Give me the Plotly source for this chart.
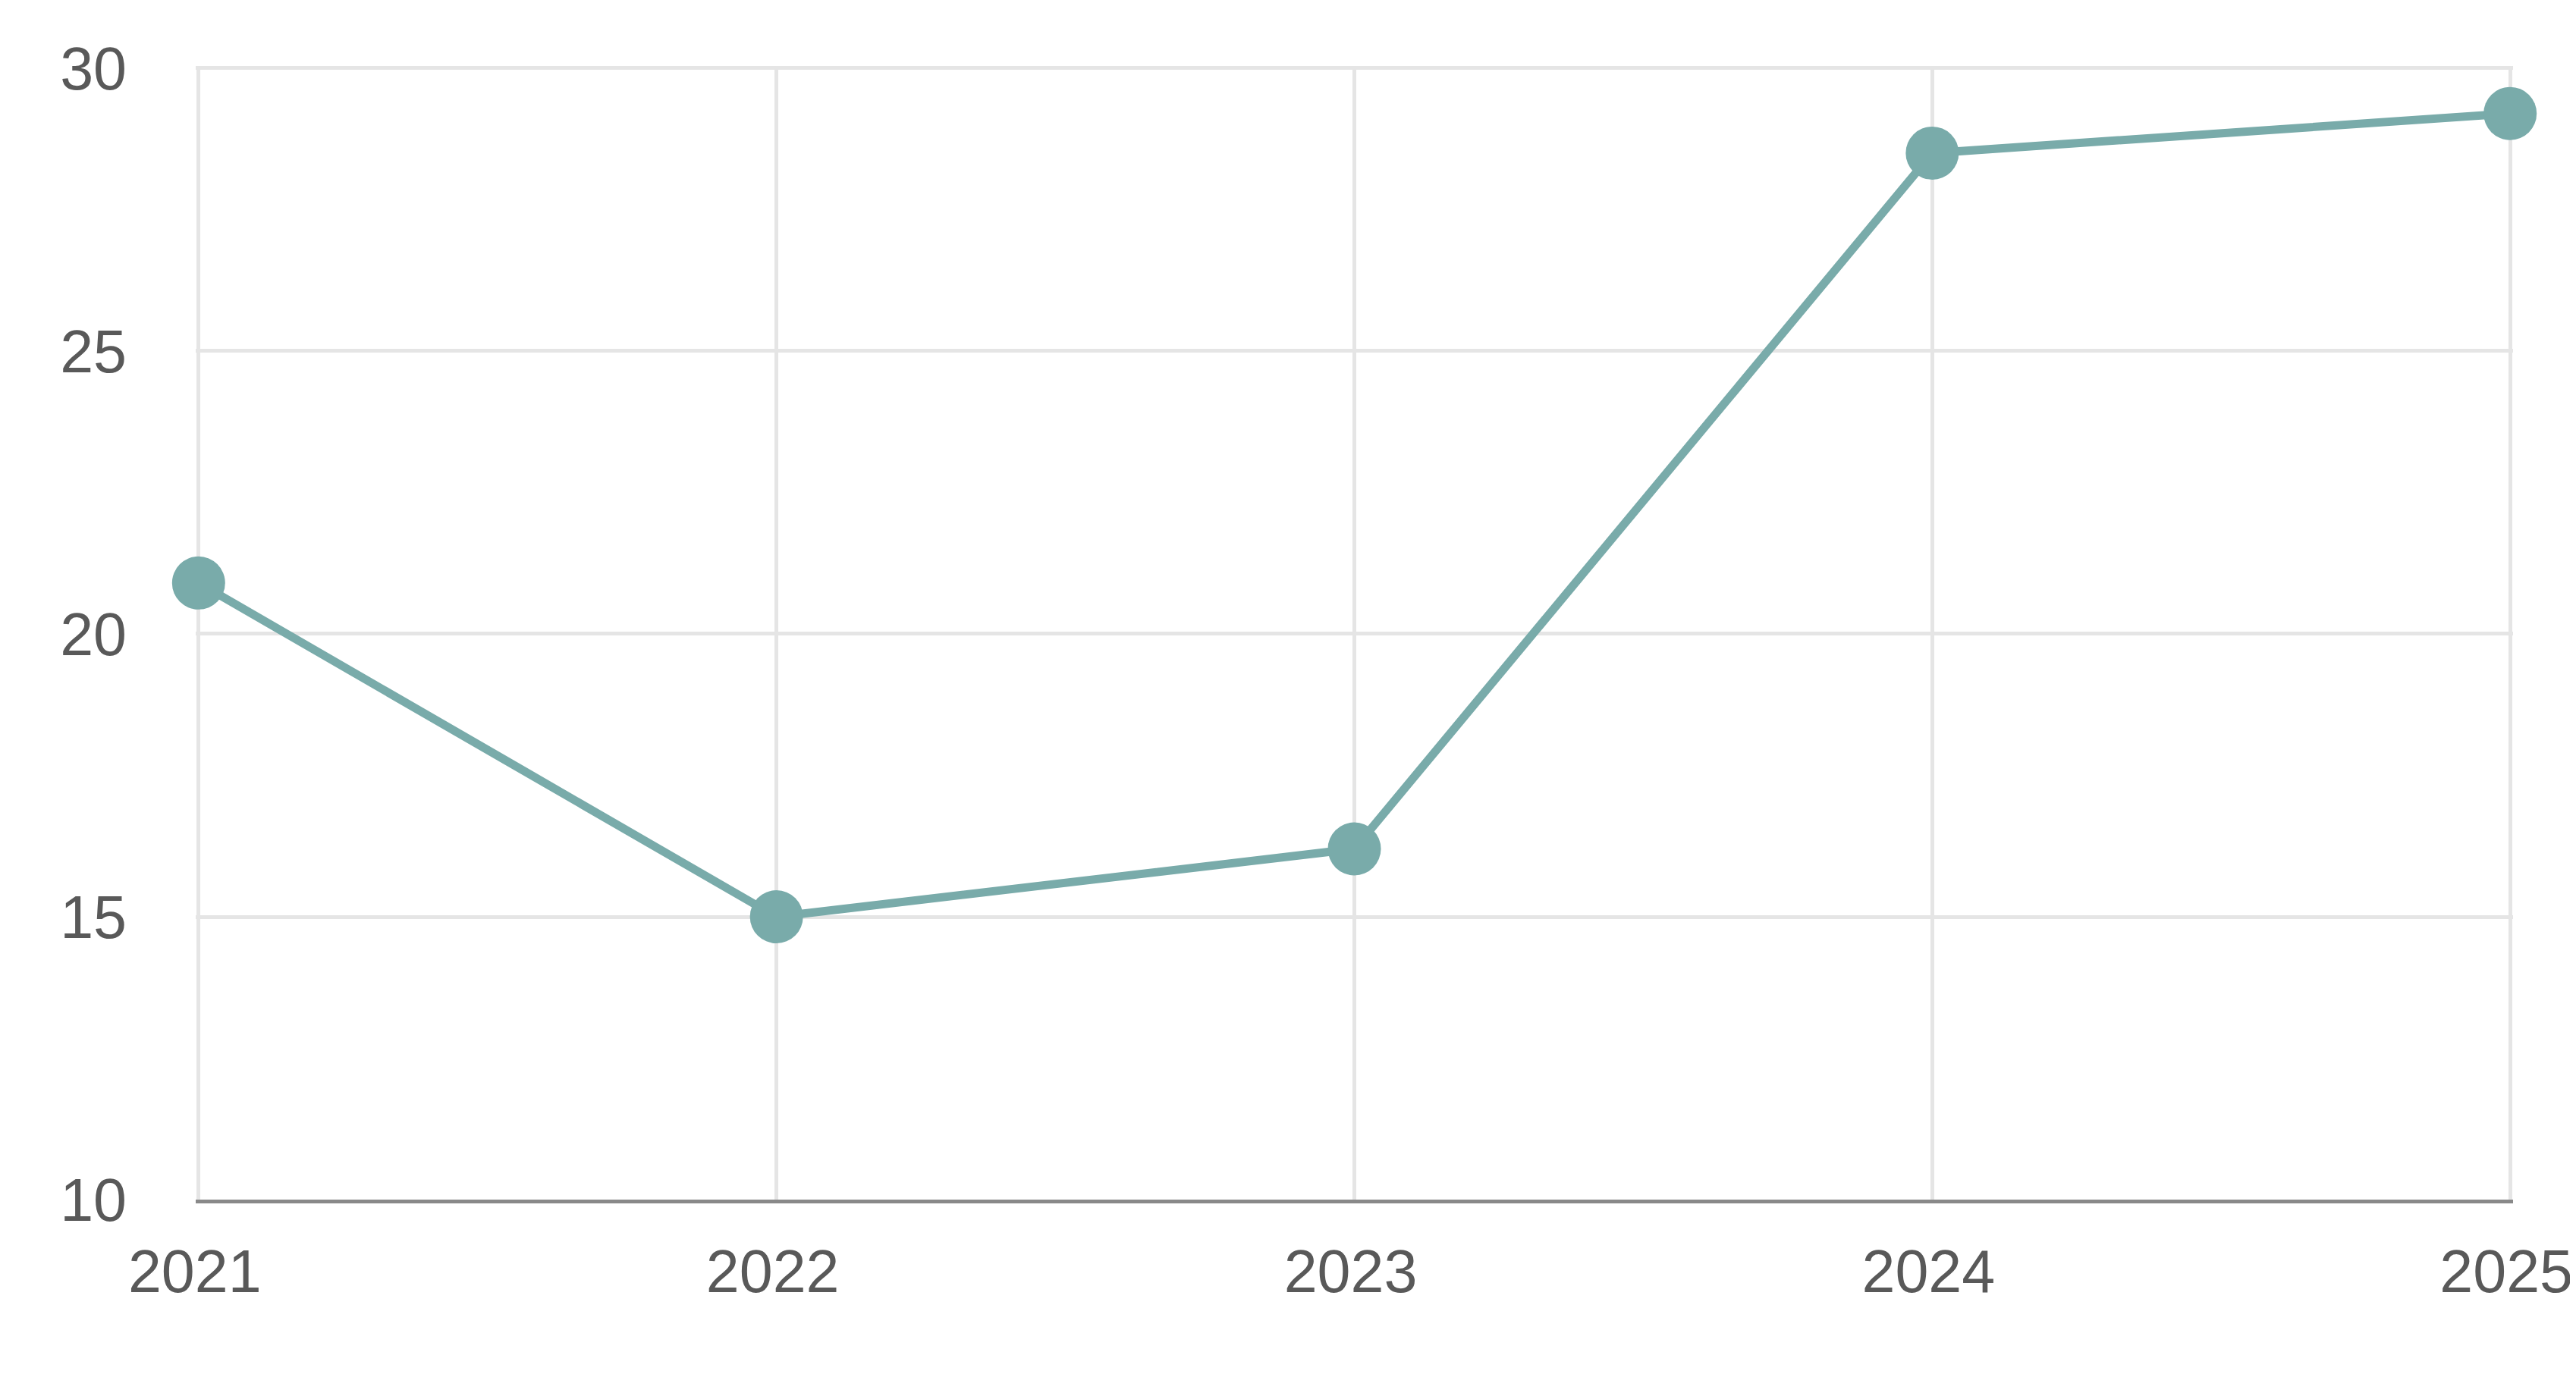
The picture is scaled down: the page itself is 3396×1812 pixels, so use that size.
import plotly.graph_objects as go

years = ["2021", "2022", "2023", "2024", "2025"]
values = [20.9, 15.0, 16.2, 28.5, 29.2]
y_ticks = [10, 15, 20, 25, 30]

COLOR = "#79ABAA"
TEXT = "#595959"
FONT = "Liberation Sans, Arial, sans-serif"

fig = go.Figure(
    go.Scatter(
        x=years,
        y=values,
        mode="lines+markers",
        line=dict(color=COLOR, width=11),
        marker=dict(color=COLOR, size=70, line=dict(width=0)),
        cliponaxis=False,
        showlegend=False,
        hoverinfo="x+y",
    )
)

# page body has an 8px default margin; figure sized to fill the rest of the window
fig.update_layout(
    width=3388,
    height=1804,
    margin=dict(l=250, r=83, t=79, b=230, pad=0),
    paper_bgcolor="white",
    plot_bgcolor="white",
    font=dict(family=FONT, size=79, color=TEXT),
)

fig.update_xaxes(
    type="category",
    range=[-0.005, 4.005],
    automargin=False,
    showgrid=True,
    gridcolor="#E5E5E5",
    gridwidth=5,
    showline=True,
    linecolor="#898989",
    linewidth=5,
    ticks="",
    zeroline=False,
    ticklabelstandoff=22,
    ticklabelshift=-5,
    tickfont=dict(family=FONT, size=79, color=TEXT),
)

fig.update_yaxes(
    range=[10, 30.04],
    tickvals=y_ticks,
    automargin=False,
    showgrid=True,
    gridcolor="#E5E5E5",
    gridwidth=5,
    showline=False,
    zeroline=False,
    ticks="",
    ticklabelstandoff=90,
    tickfont=dict(family=FONT, size=79, color=TEXT),
)

fig.write_html("out.html")
